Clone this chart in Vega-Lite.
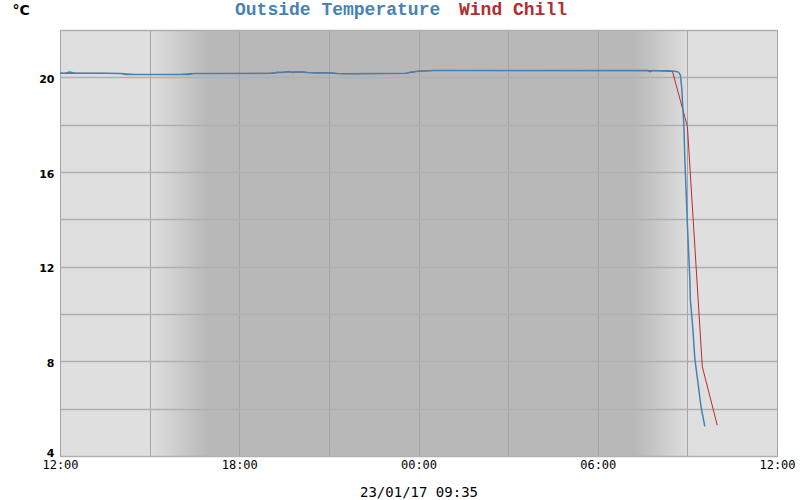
{
  "$schema": "https://vega.github.io/schema/vega-lite/v6.json",
  "width": 717,
  "height": 426,
  "autosize": "none",
  "padding": {"left": 60, "top": 30, "right": 23, "bottom": 44},
  "background": "white",
  "config": {
    "view": {
      "stroke": "#a0a0a0",
      "strokeWidth": 1,
      "fill": {
        "gradient": "linear", "x1": 0, "x2": 1, "y1": 0, "y2": 0,
        "stops": [
          {"offset": 0, "color": "#dfdfdf"},
          {"offset": 0.1255, "color": "#dfdfdf"},
          {"offset": 0.207, "color": "#b8b8b8"},
          {"offset": 0.8, "color": "#b8b8b8"},
          {"offset": 0.878, "color": "#dfdfdf"},
          {"offset": 1, "color": "#dfdfdf"}
        ]
      }
    }
  },
  "data": {
    "values": [
      {"series": "Wind Chill", "t": "2017-01-22 12:00", "v": 20.17},
      {"series": "Wind Chill", "t": "2017-01-22 13:00", "v": 20.17},
      {"series": "Wind Chill", "t": "2017-01-22 14:00", "v": 20.16},
      {"series": "Wind Chill", "t": "2017-01-22 14:30", "v": 20.12},
      {"series": "Wind Chill", "t": "2017-01-22 16:00", "v": 20.12},
      {"series": "Wind Chill", "t": "2017-01-22 16:30", "v": 20.16},
      {"series": "Wind Chill", "t": "2017-01-22 19:00", "v": 20.17},
      {"series": "Wind Chill", "t": "2017-01-22 19:30", "v": 20.22},
      {"series": "Wind Chill", "t": "2017-01-22 20:00", "v": 20.23},
      {"series": "Wind Chill", "t": "2017-01-22 20:30", "v": 20.19},
      {"series": "Wind Chill", "t": "2017-01-22 21:00", "v": 20.19},
      {"series": "Wind Chill", "t": "2017-01-22 21:30", "v": 20.15},
      {"series": "Wind Chill", "t": "2017-01-22 23:30", "v": 20.16},
      {"series": "Wind Chill", "t": "2017-01-23 00:00", "v": 20.26},
      {"series": "Wind Chill", "t": "2017-01-23 00:30", "v": 20.29},
      {"series": "Wind Chill", "t": "2017-01-23 08:00", "v": 20.28},
      {"series": "Wind Chill", "t": "2017-01-23 08:30", "v": 20.25},
      {"series": "Wind Chill", "t": "2017-01-23 09:00", "v": 17.93},
      {"series": "Wind Chill", "t": "2017-01-23 09:30", "v": 7.77},
      {"series": "Wind Chill", "t": "2017-01-23 10:00", "v": 5.3},
      {"series": "Outside Temperature", "t": "2017-01-22 12:00", "v": 20.17},
      {"series": "Outside Temperature", "t": "2017-01-22 12:10", "v": 20.17},
      {"series": "Outside Temperature", "t": "2017-01-22 12:20", "v": 20.22},
      {"series": "Outside Temperature", "t": "2017-01-22 12:30", "v": 20.17},
      {"series": "Outside Temperature", "t": "2017-01-22 13:30", "v": 20.17},
      {"series": "Outside Temperature", "t": "2017-01-22 14:05", "v": 20.16},
      {"series": "Outside Temperature", "t": "2017-01-22 14:12", "v": 20.12},
      {"series": "Outside Temperature", "t": "2017-01-22 15:00", "v": 20.12},
      {"series": "Outside Temperature", "t": "2017-01-22 16:20", "v": 20.12},
      {"series": "Outside Temperature", "t": "2017-01-22 16:28", "v": 20.16},
      {"series": "Outside Temperature", "t": "2017-01-22 17:30", "v": 20.16},
      {"series": "Outside Temperature", "t": "2017-01-22 18:30", "v": 20.16},
      {"series": "Outside Temperature", "t": "2017-01-22 19:08", "v": 20.17},
      {"series": "Outside Temperature", "t": "2017-01-22 19:16", "v": 20.21},
      {"series": "Outside Temperature", "t": "2017-01-22 19:25", "v": 20.2},
      {"series": "Outside Temperature", "t": "2017-01-22 19:40", "v": 20.25},
      {"series": "Outside Temperature", "t": "2017-01-22 19:48", "v": 20.2},
      {"series": "Outside Temperature", "t": "2017-01-22 20:05", "v": 20.24},
      {"series": "Outside Temperature", "t": "2017-01-22 20:15", "v": 20.2},
      {"series": "Outside Temperature", "t": "2017-01-22 20:40", "v": 20.18},
      {"series": "Outside Temperature", "t": "2017-01-22 21:00", "v": 20.19},
      {"series": "Outside Temperature", "t": "2017-01-22 21:15", "v": 20.16},
      {"series": "Outside Temperature", "t": "2017-01-22 21:30", "v": 20.15},
      {"series": "Outside Temperature", "t": "2017-01-22 22:30", "v": 20.16},
      {"series": "Outside Temperature", "t": "2017-01-22 23:37", "v": 20.17},
      {"series": "Outside Temperature", "t": "2017-01-22 23:43", "v": 20.22},
      {"series": "Outside Temperature", "t": "2017-01-22 23:50", "v": 20.24},
      {"series": "Outside Temperature", "t": "2017-01-23 00:00", "v": 20.26},
      {"series": "Outside Temperature", "t": "2017-01-23 00:15", "v": 20.27},
      {"series": "Outside Temperature", "t": "2017-01-23 00:30", "v": 20.29},
      {"series": "Outside Temperature", "t": "2017-01-23 02:00", "v": 20.29},
      {"series": "Outside Temperature", "t": "2017-01-23 04:00", "v": 20.29},
      {"series": "Outside Temperature", "t": "2017-01-23 06:00", "v": 20.29},
      {"series": "Outside Temperature", "t": "2017-01-23 07:40", "v": 20.29},
      {"series": "Outside Temperature", "t": "2017-01-23 07:45", "v": 20.24},
      {"series": "Outside Temperature", "t": "2017-01-23 07:50", "v": 20.29},
      {"series": "Outside Temperature", "t": "2017-01-23 08:05", "v": 20.28},
      {"series": "Outside Temperature", "t": "2017-01-23 08:20", "v": 20.28},
      {"series": "Outside Temperature", "t": "2017-01-23 08:35", "v": 20.26},
      {"series": "Outside Temperature", "t": "2017-01-23 08:42", "v": 20.22},
      {"series": "Outside Temperature", "t": "2017-01-23 08:46", "v": 20.1},
      {"series": "Outside Temperature", "t": "2017-01-23 08:49", "v": 19.47},
      {"series": "Outside Temperature", "t": "2017-01-23 08:51", "v": 18.63},
      {"series": "Outside Temperature", "t": "2017-01-23 08:53", "v": 18.0},
      {"series": "Outside Temperature", "t": "2017-01-23 08:55", "v": 16.5},
      {"series": "Outside Temperature", "t": "2017-01-23 09:00", "v": 13.8},
      {"series": "Outside Temperature", "t": "2017-01-23 09:05", "v": 11.47},
      {"series": "Outside Temperature", "t": "2017-01-23 09:06", "v": 10.6},
      {"series": "Outside Temperature", "t": "2017-01-23 09:11", "v": 9.37},
      {"series": "Outside Temperature", "t": "2017-01-23 09:15", "v": 8.1},
      {"series": "Outside Temperature", "t": "2017-01-23 09:22", "v": 6.98},
      {"series": "Outside Temperature", "t": "2017-01-23 09:27", "v": 6.13},
      {"series": "Outside Temperature", "t": "2017-01-23 09:35", "v": 5.25}
    ]
  },
  "encoding": {
    "x": {
      "field": "t", "type": "temporal",
      "scale": {"domain": [
        {"year": 2017, "month": 1, "date": 22, "hours": 12},
        {"year": 2017, "month": 1, "date": 23, "hours": 12}
      ], "nice": false},
      "axis": {
        "values": [
          {"year": 2017, "month": 1, "date": 22, "hours": 12},
          {"year": 2017, "month": 1, "date": 22, "hours": 15},
          {"year": 2017, "month": 1, "date": 22, "hours": 18},
          {"year": 2017, "month": 1, "date": 22, "hours": 21},
          {"year": 2017, "month": 1, "date": 23, "hours": 0},
          {"year": 2017, "month": 1, "date": 23, "hours": 3},
          {"year": 2017, "month": 1, "date": 23, "hours": 6},
          {"year": 2017, "month": 1, "date": 23, "hours": 9},
          {"year": 2017, "month": 1, "date": 23, "hours": 12}
        ],
        "format": "%H:%M",
        "labelExpr": "hours(datum.value) % 6 == 0 ? datum.label : ''",
        "grid": true, "gridColor": "#a4a4a4", "gridWidth": 1,
        "ticks": false, "domain": false,
        "labelFont": "DejaVu Sans Mono", "labelFontSize": 12, "labelColor": "#000000",
        "labelPadding": 3, "labelFlush": false, "labelOverlap": false,
        "title": "23/01/17 09:35",
        "titleFont": "DejaVu Sans Mono", "titleFontSize": 14, "titleFontWeight": "normal",
        "titleColor": "#000000", "titlePadding": 15
      }
    },
    "y": {
      "field": "v", "type": "quantitative",
      "scale": {"domain": [4, 22], "nice": false, "zero": false},
      "axis": {
        "values": [4, 6, 8, 10, 12, 14, 16, 18, 20, 22],
        "labelExpr": "datum.value % 4 == 0 ? datum.label : ''",
        "grid": true, "gridColor": "#b0b0b0", "gridWidth": 1.5,
        "ticks": false, "domain": false,
        "labelFont": "DejaVu Sans", "labelFontWeight": "bold", "labelFontSize": 11,
        "labelColor": "#000000", "labelPadding": 6, "labelFlush": true, "labelOffset": 2,
        "title": "°C", "titleAngle": 0, "titleX": -48, "titleY": -16,
        "titleAlign": "left", "titleBaseline": "alphabetic",
        "titleFont": "DejaVu Sans", "titleFontSize": 14, "titleFontWeight": "bold",
        "titleColor": "#000000"
      }
    },
    "color": {
      "field": "series", "type": "nominal",
      "scale": {"domain": ["Outside Temperature", "Wind Chill"], "range": ["#4682b4", "#b22e2e"]},
      "legend": {
        "orient": "none", "legendX": 157, "legendY": -29,
        "direction": "horizontal", "title": null,
        "symbolSize": 0, "symbolOpacity": 0, "symbolStrokeWidth": 0,
        "labelOffset": 0, "columnPadding": -10, "padding": 0,
        "labelFont": "Liberation Mono", "labelFontSize": 18, "labelFontWeight": "bold",
        "labelLimit": 400,
        "encode": {"labels": {"update": {"fill": {"signal": "datum.label === 'Wind Chill' ? '#b22e2e' : '#4682b4'"}}}}
      }
    }
  },
  "layer": [
    {
      "transform": [{"filter": "datum.series === 'Wind Chill'"}],
      "mark": {"type": "line", "strokeWidth": 1.0, "clip": true}
    },
    {
      "transform": [{"filter": "datum.series === 'Outside Temperature'"}],
      "mark": {"type": "line", "strokeWidth": 1.5, "clip": true}
    }
  ]
}
